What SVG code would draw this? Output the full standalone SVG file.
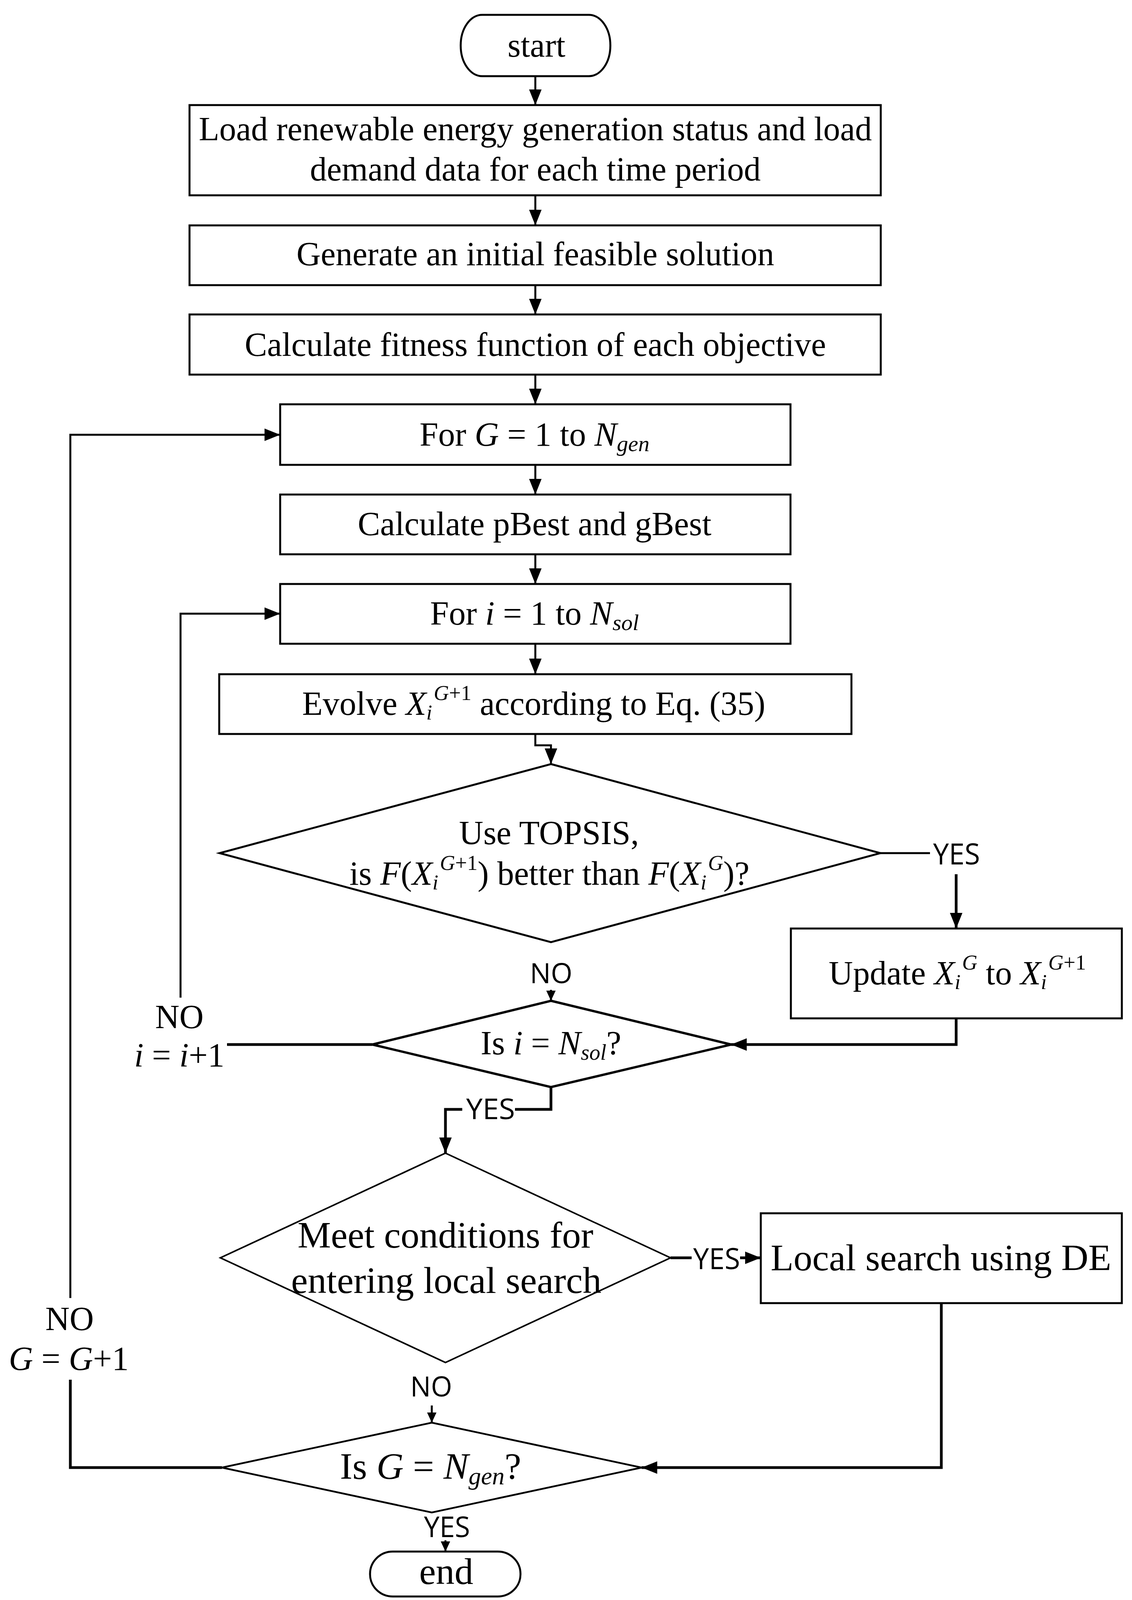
<svg xmlns="http://www.w3.org/2000/svg" width="2897" height="4222" viewBox="0 0 2897 4222" style="overflow:hidden">
<style>
.bg{fill:#fff}
.box{fill:#fff;stroke:#000;stroke-width:5}
.term{fill:#fff;stroke:#000;stroke-width:5}
.dia{fill:#fff;stroke:#000;stroke-width:5;stroke-linejoin:miter}
.ln{fill:none;stroke:#000;stroke-width:5}
.lnb{fill:none;stroke:#000;stroke-width:7}
.t{font-family:"Liberation Serif","Times New Roman",serif;font-size:86px;fill:#000;text-anchor:middle}
.tl{font-family:"Liberation Serif","Times New Roman",serif;font-size:96px;fill:#000;text-anchor:middle}
.it{font-style:italic}
.lab{font-family:"Open Sans","Liberation Sans",Arial,sans-serif;fill:#000}
</style>
<defs>
<marker id="ah" markerUnits="userSpaceOnUse" markerWidth="40" markerHeight="32" viewBox="0 0 40 32" refX="40" refY="16" orient="auto">
<path d="M0,0 L40,16 L0,32 z" fill="#000"/>
</marker>
<marker id="as" markerUnits="userSpaceOnUse" markerWidth="26" markerHeight="24" viewBox="0 0 26 24" refX="26" refY="12" orient="auto">
<path d="M0,0 L26,12 L0,24 z" fill="#000"/>
</marker>
</defs>
<rect class="bg" x="0" y="0" width="2897" height="4222"/>

<g id="connectors">
<line class="ln" x1="1370" y1="195" x2="1370" y2="269" marker-end="url(#ah)"/>
<line class="ln" x1="1370" y1="500" x2="1370" y2="577" marker-end="url(#ah)"/>
<line class="ln" x1="1370" y1="730" x2="1370" y2="805" marker-end="url(#ah)"/>
<line class="ln" x1="1370" y1="959" x2="1370" y2="1035" marker-end="url(#ah)"/>
<line class="ln" x1="1370" y1="1190" x2="1370" y2="1266" marker-end="url(#ah)"/>
<line class="ln" x1="1370" y1="1419" x2="1370" y2="1495" marker-end="url(#ah)"/>
<line class="ln" x1="1370" y1="1648" x2="1370" y2="1726" marker-end="url(#ah)"/>
<polyline class="ln" points="1370,1879 1370,1908 1410,1908 1410,1956" marker-end="url(#ah)"/>
<line class="ln" x1="2253" y1="2184" x2="2380" y2="2184"/>
<line class="lnb" x1="2447" y1="2238" x2="2447" y2="2377" marker-end="url(#ah)"/>
<line class="ln" x1="1410" y1="2534" x2="1410" y2="2562" marker-end="url(#as)"/>
<polyline class="lnb" points="2447,2607 2447,2674 1871,2674" marker-end="url(#ah)"/>
<line class="lnb" x1="953" y1="2674" x2="581" y2="2674"/>
<polyline class="ln" points="462,2554 462,1571 717,1571" marker-end="url(#ah)"/>
<polyline class="lnb" points="1410,2783 1410,2840 1318,2840"/>
<polyline class="lnb" points="1183,2840 1140,2840 1140,2952" marker-end="url(#ah)"/>
<line class="lnb" x1="1716" y1="3220" x2="1770" y2="3220"/>
<line class="lnb" x1="1894" y1="3220" x2="1947" y2="3220" marker-end="url(#ah)"/>
<polyline class="lnb" points="2409,3336 2409,3757 1642,3757" marker-end="url(#ah)"/>
<line class="ln" x1="1105" y1="3598" x2="1105" y2="3642" marker-end="url(#as)"/>
<line class="ln" x1="1140" y1="3943" x2="1140" y2="3972" marker-end="url(#as)"/>
<polyline class="lnb" points="568,3757 180,3757 180,3532"/>
<polyline class="ln" points="180,3323 180,1113 717,1113" marker-end="url(#ah)"/>
<text class="lab" x="2388" y="2213" font-size="75" textLength="120" lengthAdjust="spacingAndGlyphs">YES</text>
<text class="lab" x="1356" y="2517" font-size="71" textLength="109" lengthAdjust="spacingAndGlyphs">NO</text>
<text class="t" x="459" y="2632" font-size="82">NO</text>
<text class="t" x="459" y="2730"><tspan class="it">i</tspan> = <tspan class="it">i</tspan>+1</text>
<text class="lab" x="1193" y="2865" font-size="73" textLength="125" lengthAdjust="spacingAndGlyphs">YES</text>
<text class="lab" x="1774" y="3249" font-size="75" textLength="120" lengthAdjust="spacingAndGlyphs">YES</text>
<text class="t" x="178" y="3405" font-size="82">NO</text>
<text class="t" x="176" y="3507"><tspan class="it">G</tspan> = <tspan class="it">G</tspan>+1</text>
<text class="lab" x="1050" y="3575" font-size="71" textLength="107" lengthAdjust="spacingAndGlyphs">NO</text>
<text class="lab" x="1085" y="3935" font-size="73" textLength="118" lengthAdjust="spacingAndGlyphs">YES</text>
</g>

<g id="start">
<rect class="term" x="1179" y="38" width="383" height="157" rx="55" ry="78"/>
<text class="t" x="1373" y="145">start</text>
</g>
<g id="load-data">
<rect class="box" x="485" y="269" width="1769" height="231"/>
<text class="t" x="1370" y="359">Load renewable energy generation status and load</text>
<text class="t" x="1370" y="462">demand data for each time period</text>
</g>
<g id="init-solution">
<rect class="box" x="485" y="577" width="1769" height="153"/>
<text class="t" x="1370" y="679">Generate an initial feasible solution</text>
</g>
<g id="fitness">
<rect class="box" x="485" y="805" width="1769" height="154"/>
<text class="t" x="1370" y="911">Calculate fitness function of each objective</text>
</g>
<g id="for-g">
<rect class="box" x="717" y="1035" width="1306" height="155"/>
<text class="t" x="1368" y="1141">For <tspan class="it">G</tspan> = 1 to <tspan class="it">N</tspan><tspan class="it" font-size="58" dy="14">gen</tspan></text>
</g>
<g id="pbest">
<rect class="box" x="717" y="1266" width="1306" height="153"/>
<text class="t" x="1368" y="1370">Calculate pBest and gBest</text>
</g>
<g id="for-i">
<rect class="box" x="717" y="1495" width="1306" height="153"/>
<text class="t" x="1368" y="1599">For <tspan class="it">i</tspan> = 1 to <tspan class="it">N</tspan><tspan class="it" font-size="58" dy="14">sol</tspan></text>
</g>
<g id="evolve">
<rect class="box" x="561" y="1726" width="1618" height="153"/>
<text class="t" x="1366" y="1830">Evolve <tspan class="it">X</tspan><tspan class="it" font-size="54" dy="12">i</tspan><tspan font-size="54" dx="4" dy="-50"><tspan class="it">G</tspan>+1</tspan><tspan dy="38"> according to Eq. (35)</tspan></text>
</g>
<g id="topsis">
<polygon class="dia" points="1410,1956 2253,2184 1410,2412 562,2184"/>
<text class="t" x="1405" y="2161">Use TOPSIS,</text>
<text class="t" x="1406" y="2265">is <tspan class="it">F</tspan>(<tspan class="it">X</tspan><tspan class="it" font-size="54" dy="12">i</tspan><tspan font-size="54" dx="4" dy="-50"><tspan class="it">G</tspan>+1</tspan><tspan dy="38">) better than </tspan><tspan class="it">F</tspan>(<tspan class="it">X</tspan><tspan class="it" font-size="54" dy="12">i</tspan><tspan class="it" font-size="54" dx="4" dy="-50">G</tspan><tspan dy="38">)?</tspan></text>
</g>
<g id="update">
<rect class="box" x="2024" y="2377" width="847" height="230"/>
<text class="t" x="2450" y="2520">Update <tspan class="it">X</tspan><tspan class="it" font-size="54" dy="12">i</tspan><tspan class="it" font-size="54" dx="4" dy="-50">G</tspan><tspan dy="38"> to </tspan><tspan class="it">X</tspan><tspan class="it" font-size="54" dy="12">i</tspan><tspan font-size="54" dx="4" dy="-50"><tspan class="it">G</tspan>+1</tspan></text>
</g>
<g id="check-i">
<polygon class="dia" points="1410,2562 1871,2674 1410,2783 953,2674" style="stroke-width:6"/>
<text class="t" x="1410" y="2699">Is <tspan class="it">i</tspan> = <tspan class="it">N</tspan><tspan class="it" font-size="56" dy="14">sol</tspan><tspan dy="-14">?</tspan></text>
</g>
<g id="local-cond">
<polygon class="dia" points="1140,2952 1716,3220 1140,3488 564,3220" style="stroke-width:4"/>
<text class="tl" x="1140" y="3194">Meet conditions for</text>
<text class="tl" x="1142" y="3310">entering local search</text>
</g>
<g id="local-search">
<rect class="box" x="1947" y="3106" width="924" height="230"/>
<text class="tl" x="2408" y="3252">Local search using DE</text>
</g>
<g id="check-g">
<polygon class="dia" points="1105,3642 1642,3757 1105,3872 568,3757" style="stroke-width:4.5"/>
<text class="tl" x="1102" y="3786">Is <tspan class="it">G</tspan> = <tspan class="it">N</tspan><tspan class="it" font-size="64" dy="14">gen</tspan><tspan dy="-14">?</tspan></text>
</g>
<g id="end">
<rect class="term" x="947" y="3972" width="385" height="115" rx="58" ry="57"/>
<text class="tl" x="1142" y="4055" font-size="90">end</text>
</g>
</svg>
